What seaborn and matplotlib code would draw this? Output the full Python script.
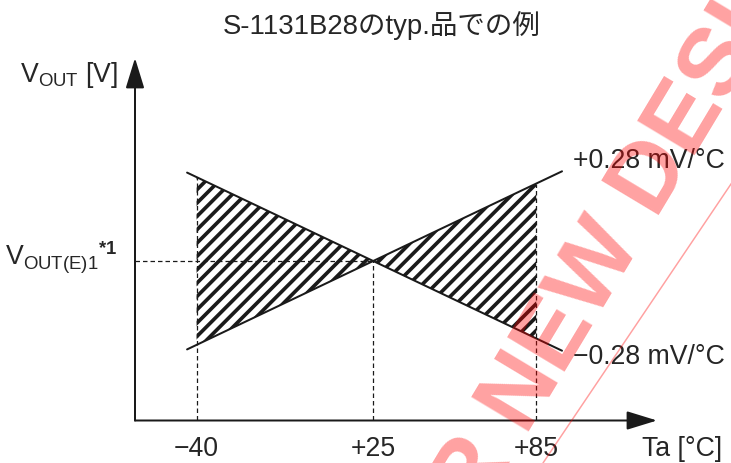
import numpy as np
import pandas as pd
import matplotlib.pyplot as plt
import seaborn as sns
from matplotlib.lines import Line2D

# S-1131B28 output voltage temperature characteristic (schematic)
ta_ticks = [-40, 25, 85]
tick_labels = ["\u221240", "+25", "+85"]
v_out_e = 2.8                      # V, typ. output voltage at +25 degC
temp_coef = [0.28, -0.28]          # mV/degC
coef_labels = ["+0.28 mV/\u00b0C", "\u22120.28 mV/\u00b0C"]
line_span = [-43.5, 94.5]          # degC range of the drawn lines


def v_at(coef, ta):
    return v_out_e + coef * 1e-3 * (np.asarray(ta, dtype=float) - 25)


sns.set_theme(style="white")
plt.rcParams["font.family"] = ["Liberation Sans", "Noto Sans CJK JP"]
plt.rcParams["mathtext.fontset"] = "custom"
plt.rcParams["mathtext.rm"] = "Liberation Sans"
plt.rcParams["mathtext.bf"] = "Liberation Sans:bold"
plt.rcParams["mathtext.it"] = "Liberation Sans:italic"
plt.rcParams["hatch.linewidth"] = 2.2

fig = plt.figure(figsize=(731 / 120, 463 / 120), dpi=120)
ax = fig.add_axes([135 / 731, 42.5 / 463, 522 / 731, 362.5 / 463])

rows = []
for coef, lab in zip(temp_coef, coef_labels):
    for t in line_span:
        rows.append({"Ta": t, "V": float(v_at(coef, t)), "coef": lab})
df = pd.DataFrame(rows)

sns.lineplot(data=df, x="Ta", y="V", hue="coef", palette=["k", "k"],
             legend=False, lw=1.2, ax=ax)

xlim = (-62.67, 129.46)
ylim = (2.765394, 2.844045)
ax.set_xlim(xlim)
ax.set_ylim(ylim)

# hatched spread between the two lines
v_up = v_at(temp_coef[0], ta_ticks)
v_dn = v_at(temp_coef[1], ta_ticks)
ax.fill_between(ta_ticks, v_up, v_dn, facecolor="none", edgecolor="k",
                hatch="///", linewidth=0)

dash = (0, (3.6, 2.4))
ax.vlines(ta_ticks, ylim[0], np.maximum(v_up, v_dn), colors="k",
          linestyles=dash, lw=0.75)
ax.hlines(v_out_e, xlim[0], 25, colors="k", linestyles=dash, lw=0.75)

# axes as arrows
for sp in ax.spines.values():
    sp.set_visible(False)
arrow = dict(arrowstyle="-|>,head_length=0.78,head_width=0.24",
             mutation_scale=20, lw=1.2, color="k", shrinkA=0, shrinkB=0)
ax.annotate("", xy=(1, 0), xytext=(0, 0), xycoords="axes fraction",
            arrowprops=arrow)
ax.annotate("", xy=(0, 1), xytext=(0, 0), xycoords="axes fraction",
            arrowprops=arrow)

ax.set_xticks(ta_ticks)
ax.set_xticklabels(tick_labels, fontsize=16)
ax.set_yticks([])
ax.tick_params(axis="x", length=0, pad=9.5)
ax.set_xlabel("")
ax.set_ylabel("")

for coef, lab in zip(temp_coef, coef_labels):
    ax.annotate(lab, xy=(line_span[1], float(v_at(coef, line_span[1]))),
                xytext=(6.6, 2 if coef > 0 else -8), textcoords="offset points",
                ha="left", va="baseline", fontsize=16, annotation_clip=False)

ax.annotate("Ta [\u00b0C]", xy=(1, 0), xycoords="axes fraction",
            xytext=(-9, -9.5), textcoords="offset points",
            ha="left", va="top", fontsize=16)
ax.annotate(r"$\mathrm{V_{OUT}}$ [V]", xy=(0, 1), xycoords="axes fraction",
            xytext=(-10, -14.4), textcoords="offset points",
            ha="right", va="baseline", fontsize=16)
ax.annotate(r"$\mathrm{V_{OUT(E)1}}^{\mathbf{*1}}$", xy=(0, v_out_e),
            xycoords=("axes fraction", "data"), xytext=(-10.5, -2.4),
            textcoords="offset points", ha="right", va="baseline", fontsize=16)

fig.text(382 / 731, 1 - 34.5 / 463, "S-1131B28のtyp.品での例",
         ha="center", va="baseline", fontsize=16.5)

# red watermark
wm = dict(fontsize=58, fontweight="bold", color="red", alpha=0.37,
          rotation=59, rotation_mode="anchor", va="baseline",
          family="Liberation Sans")
fig.text(526 / 731, 27 / 463, "NEW DESIGN", ha="left", **wm)
fig.text(512 / 731, 4 / 463, "NOT RECOMMENDED FOR", ha="right", **wm)
fig.add_artist(Line2D([543 / 731, 855 / 731], [0, 1], transform=fig.transFigure,
                      color="red", alpha=0.37, lw=0.9))

fig.savefig("out.png", dpi=120)
